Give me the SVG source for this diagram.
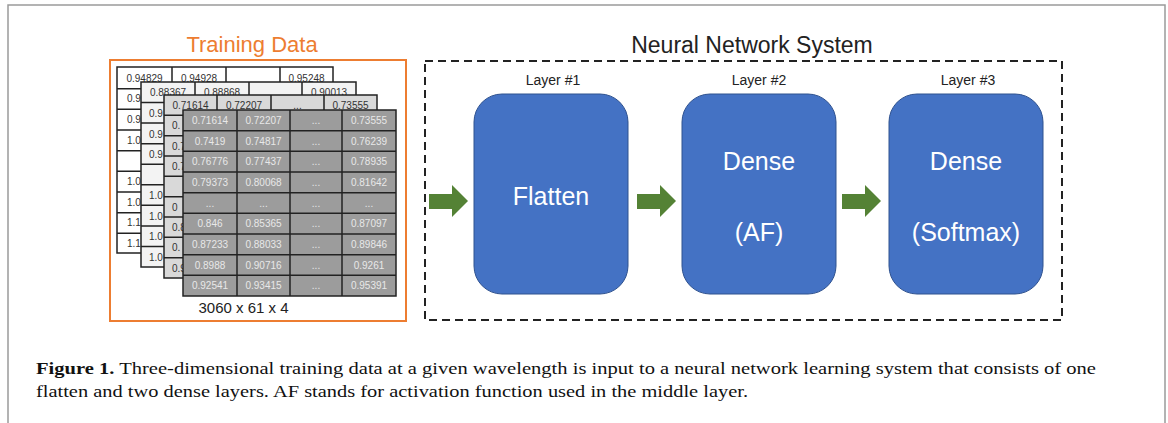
<svg xmlns="http://www.w3.org/2000/svg" width="1168" height="423" viewBox="0 0 1168 423">
<style>
.frame{fill:#fff;stroke:#9a9a9a;stroke-width:1.5}
.grid{stroke:#222;stroke-width:1.5;fill:none}
.sh{stroke:#222;stroke-width:1.5}
.c{font-family:"Liberation Sans",Arial,sans-serif;font-size:10px;text-anchor:middle}
.s{font-family:"Liberation Sans",Arial,sans-serif;font-size:10px}
.dk{fill:#333}
.lt{fill:#e8e8e8}
.title{font-family:"Liberation Sans",Arial,sans-serif;text-anchor:middle}
.box{fill:#4472C4;stroke:#2F528F;stroke-width:1}
.bt{font-family:"Liberation Sans",Arial,sans-serif;font-size:25px;fill:#fff;text-anchor:middle}
.lay{font-family:"Liberation Sans",Arial,sans-serif;font-size:14px;fill:#222;text-anchor:middle}
.arr{fill:#548235}
.cap{font-family:"Liberation Serif","Times New Roman",serif;font-size:17.5px;fill:#111}
</style>
<rect class="frame" x="8" y="5" width="1157" height="430"/>

<g id="training-data">
<rect x="110" y="60" width="296" height="261" fill="none" stroke="#ED7D31" stroke-width="2"/>
<text class="title" x="252" y="52" font-size="22" fill="#ED7D31">Training Data</text>

<g id="sheet1">
<rect x="117" y="67" width="216" height="186" class="sh" style="fill:#ffffff"/>
<path class="grid" d="M172 67V253M226 67V253M280 67V253M117 88.7H333M117 109.3H333M117 130H333M117 150.7H333M117 171.3H333M117 192H333M117 212.7H333M117 233.3H333"/>
<g class="c dk">
<text x="144.5" y="82">0.94829</text><text x="199" y="82">0.94928</text><text x="306.5" y="82">0.95248</text>
</g>
<g class="s dk">
<text x="127" y="102">0.9</text><text x="127" y="123">0.9</text><text x="127" y="144">1.0</text>
<text x="127" y="185">1.0</text><text x="127" y="206">1.0</text><text x="127" y="226">1.1</text><text x="127" y="247">1.1</text>
</g>
</g>

<g id="sheet2">
<rect x="141" y="82" width="215" height="185" class="sh" style="fill:#f3f3f3"/>
<path class="grid" d="M195 82V267M249 82V267M302 82V267M141 102.6H356M141 123.1H356M141 143.7H356M141 164.2H356M141 184.8H356M141 205.3H356M141 225.9H356M141 246.4H356"/>
<g class="c dk">
<text x="168" y="96">0.88367</text><text x="222" y="96">0.88868</text><text x="329" y="96">0.90013</text>
</g>
<g class="s dk">
<text x="149" y="117">0.9</text><text x="149" y="138">0.9</text><text x="149" y="158">0.9</text>
<text x="149" y="199">1.0</text><text x="149" y="220">1.0</text><text x="149" y="240">1.0</text><text x="149" y="261">1.0</text>
</g>
</g>

<g id="sheet3">
<rect x="164" y="95" width="213" height="183" class="sh" style="fill:#d9d9d9"/>
<path class="grid" d="M217 95V278M271 95V278M324 95V278M164 115.3H377M164 135.7H377M164 156H377M164 176.3H377M164 196.7H377M164 217H377M164 237.3H377M164 257.7H377"/>
<g class="c dk">
<text x="190.5" y="109">0.71614</text><text x="244" y="109">0.72207</text><text x="297.5" y="109">...</text><text x="350.5" y="109">0.73555</text>
</g>
<g class="s dk">
<text x="172" y="129">0.</text><text x="172" y="150">0.7</text><text x="172" y="170">0.7</text>
<text x="172" y="211">0</text><text x="172" y="231">0.8</text><text x="172" y="251">0.</text><text x="172" y="272">0.9</text>
</g>
</g>

<g id="sheet4">
<rect x="183" y="110" width="213" height="186" class="sh" style="fill:#9c9c9c"/>
<path class="grid" d="M237 110V296M290 110V296M342 110V296M183 130.7H396M183 151.3H396M183 172H396M183 192.7H396M183 213.3H396M183 234H396M183 254.7H396M183 275.3H396"/>
<g class="c lt">
<text x="210" y="124">0.71614</text><text x="263.5" y="124">0.72207</text><text x="316" y="124">...</text><text x="369" y="124">0.73555</text>
<text x="210" y="145">0.7419</text><text x="263.5" y="145">0.74817</text><text x="316" y="145">...</text><text x="369" y="145">0.76239</text>
<text x="210" y="165">0.76776</text><text x="263.5" y="165">0.77437</text><text x="316" y="165">...</text><text x="369" y="165">0.78935</text>
<text x="210" y="186">0.79373</text><text x="263.5" y="186">0.80068</text><text x="316" y="186">...</text><text x="369" y="186">0.81642</text>
<text x="210" y="207">...</text><text x="263.5" y="207">...</text><text x="316" y="207">...</text><text x="369" y="207">...</text>
<text x="210" y="227">0.846</text><text x="263.5" y="227">0.85365</text><text x="316" y="227">...</text><text x="369" y="227">0.87097</text>
<text x="210" y="248">0.87233</text><text x="263.5" y="248">0.88033</text><text x="316" y="248">...</text><text x="369" y="248">0.89846</text>
<text x="210" y="269">0.8988</text><text x="263.5" y="269">0.90716</text><text x="316" y="269">...</text><text x="369" y="269">0.9261</text>
<text x="210" y="289">0.92541</text><text x="263.5" y="289">0.93415</text><text x="316" y="289">...</text><text x="369" y="289">0.95391</text>
</g>
</g>
<text class="title" x="243.5" y="313" font-size="15" fill="#222">3060 x 61 x 4</text>
</g>

<g id="nn-system">
<rect x="425" y="61" width="637" height="259" fill="none" stroke="#222" stroke-width="2" stroke-dasharray="8,5"/>
<text class="title" x="752" y="53" font-size="23" fill="#222">Neural Network System</text>
</g>

<g id="layer1">
<text class="lay" x="553" y="85">Layer #1</text>
<rect class="box" x="474" y="94" width="154" height="200" rx="28"/>
<text class="bt" x="551" y="205">Flatten</text>
</g>
<g id="layer2">
<text class="lay" x="759" y="85">Layer #2</text>
<rect class="box" x="682" y="94" width="154" height="200" rx="28"/>
<text class="bt" x="759" y="170">Dense</text>
<text class="bt" x="759" y="241">(AF)</text>
</g>
<g id="layer3">
<text class="lay" x="968" y="85">Layer #3</text>
<rect class="box" x="889" y="94" width="154" height="200" rx="28"/>
<text class="bt" x="966" y="170">Dense</text>
<text class="bt" x="966" y="241">(Softmax)</text>
</g>

<g id="connectors">
<polygon class="arr" points="429,194 452,194 452,185 468,201 452,217 452,209 429,209"/>
<polygon class="arr" points="637,194 660,194 660,185 676,201 660,217 660,209 637,209"/>
<polygon class="arr" points="842,194 865,194 865,185 881,201 865,217 865,209 842,209"/>
</g>

<g id="caption">
<text class="cap" x="36" y="374" textLength="1060" lengthAdjust="spacingAndGlyphs"><tspan font-weight="bold">Figure 1.</tspan> Three-dimensional training data at a given wavelength is input to a neural network learning system that consists of one</text>
<text class="cap" x="36" y="397" textLength="712" lengthAdjust="spacingAndGlyphs">flatten and two dense layers. AF stands for activation function used in the middle layer.</text>
</g>
</svg>
